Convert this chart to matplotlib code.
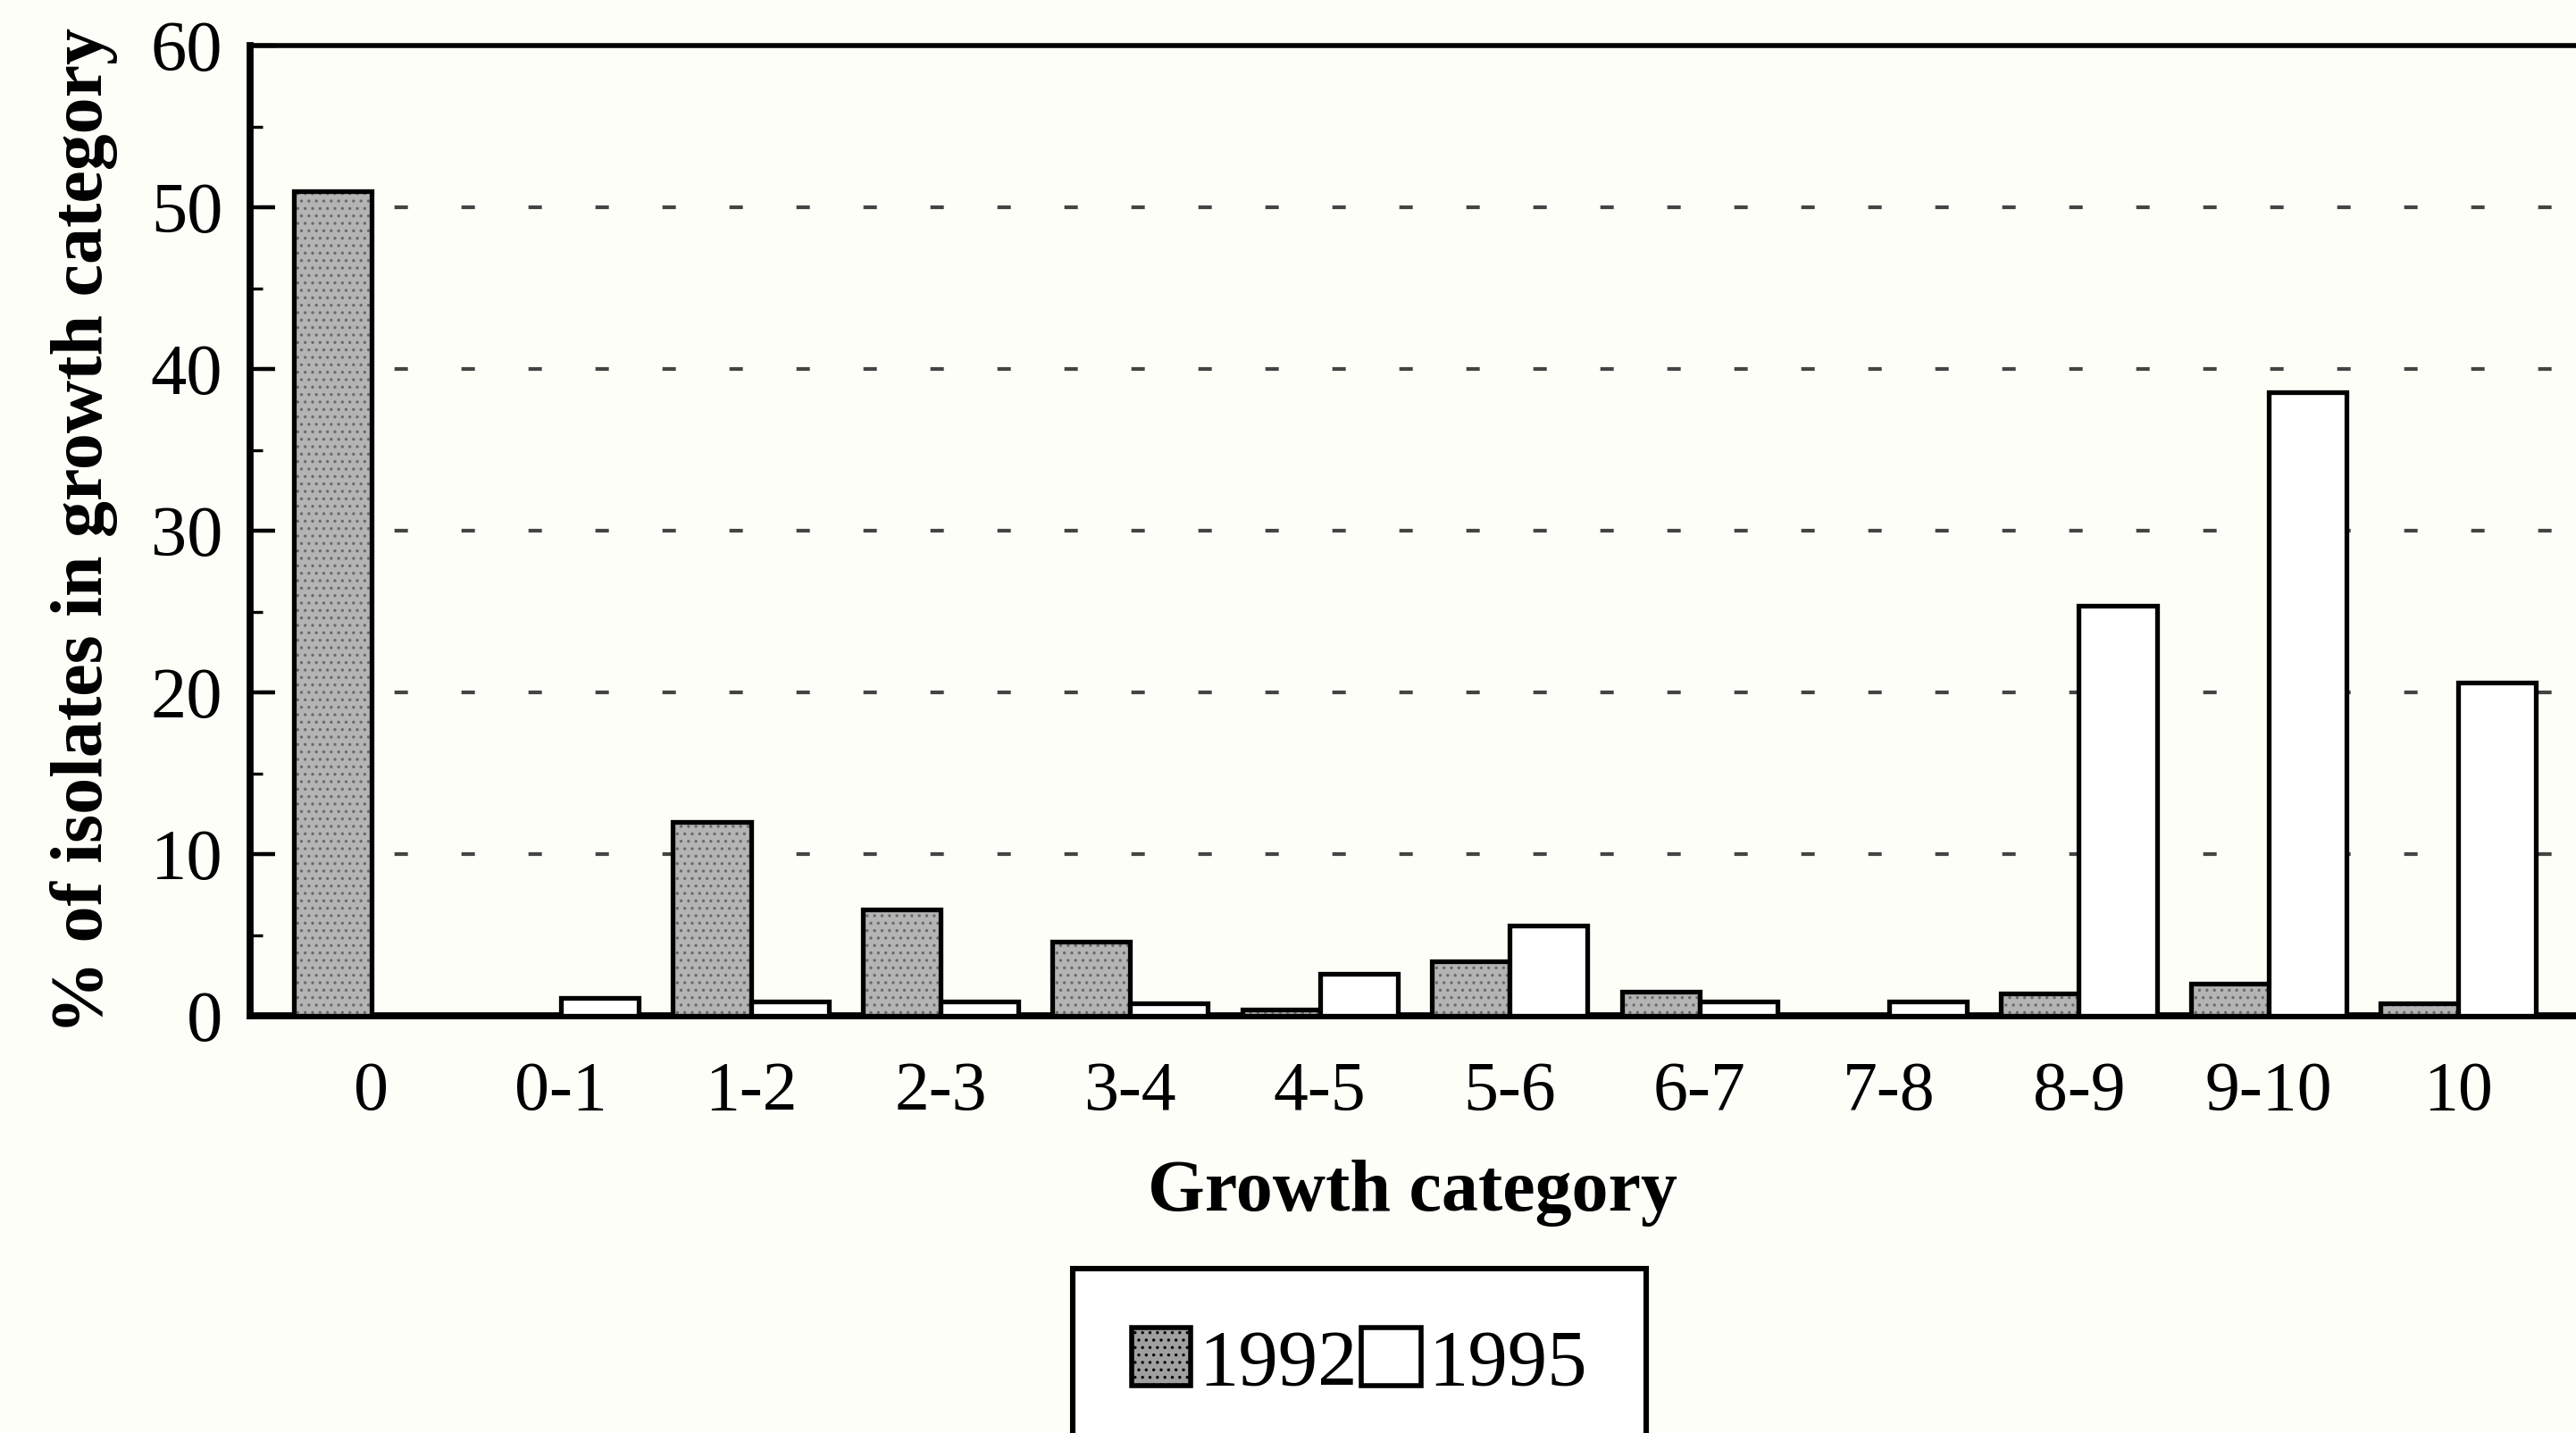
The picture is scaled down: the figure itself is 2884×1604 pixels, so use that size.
"""Growth category histogram, 1992 vs 1995 isolates."""
import numpy as np
import matplotlib
matplotlib.use("Agg")
import matplotlib.pyplot as plt
from matplotlib.patches import Patch

plt.rcParams.update({"font.family": ["Liberation Serif", "DejaVu Serif"],
                     "hatch.linewidth": 0.6})

categories = ["0", "0-1", "1-2", "2-3", "3-4", "4-5", "5-6", "6-7", "7-8", "8-9", "9-10", "10"]
pct_1992 = [51.0, 0.0, 12.0, 6.6, 4.6, 0.4, 3.4, 1.5, 0.0, 1.4, 2.0, 0.8]
pct_1995 = [0.0, 1.1, 0.9, 0.9, 0.8, 2.6, 5.6, 0.9, 0.9, 25.4, 38.6, 20.6]
yticks = [0, 10, 20, 30, 40, 50, 60]

BG = "#fefef8"
fig = plt.figure(figsize=(14.42, 8.02), dpi=200, facecolor=BG)
ax = fig.add_axes([0.097, 0.291, 0.903, 0.677])
ax.set_facecolor(BG)

x = np.arange(len(categories))
w = 0.41
# 1992 bars: gray face with fine dotted texture, then black outline on top
ax.bar(x - w / 2, pct_1992, w, color="#b4b4b4", edgecolor="#6a6a6a", hatch="....",
       linewidth=0, zorder=3)
ax.bar(x - w / 2, pct_1992, w, fill=False, edgecolor="black", linewidth=1.9, zorder=4)
ax.bar(x + w / 2, pct_1995, w, color="white", edgecolor="black", linewidth=1.9, zorder=4)

# sparse short-dash grid lines, as in the printed figure
for y in yticks[1:-1]:
    ax.axhline(y, color="#444444", lw=1.5, ls=(15.2, (3.6, 14.4)), zorder=1)

ax.set_xlim(-0.64, 11.62)
ax.set_ylim(0, 60)
ax.set_yticks(yticks)
ax.set_yticks(np.arange(5, 60, 10), minor=True)
ax.tick_params(axis="y", which="major", direction="in", length=10, width=1.6,
               labelsize=29, pad=11)
ax.tick_params(axis="y", which="minor", direction="in", length=5, width=1.2)
ax.set_xticks(x)
ax.set_xticklabels(categories)
ax.tick_params(axis="x", length=0, labelsize=28, pad=18)

ax.spines["left"].set_linewidth(2.8)
ax.spines["bottom"].set_linewidth(2.8)
ax.spines["top"].set_linewidth(2.0)
ax.spines["right"].set_visible(False)

ax.set_xlabel("Growth category", fontsize=29.5, fontweight="bold", labelpad=14)
ax.set_ylabel("% of isolates in growth category", fontsize=29.5, fontweight="bold", labelpad=13)

handles = [Patch(facecolor="#a0a0a0", edgecolor="black", hatch="....", linewidth=2.0),
           Patch(facecolor="white", edgecolor="black", linewidth=2.0)]
leg = fig.legend(handles, ["1992", "1995"], loc="upper center", bbox_to_anchor=(0.5277, 0.1147),
                 ncol=2, fontsize=32, frameon=True, fancybox=False, edgecolor="black",
                 handlelength=0.75, handleheight=0.75, handletextpad=0.1,
                 columnspacing=0.05, borderpad=0.74, borderaxespad=0,
                 facecolor="white", framealpha=1)
leg.get_frame().set_linewidth(2.2)

fig.savefig("out.png", dpi=200, facecolor=BG)
